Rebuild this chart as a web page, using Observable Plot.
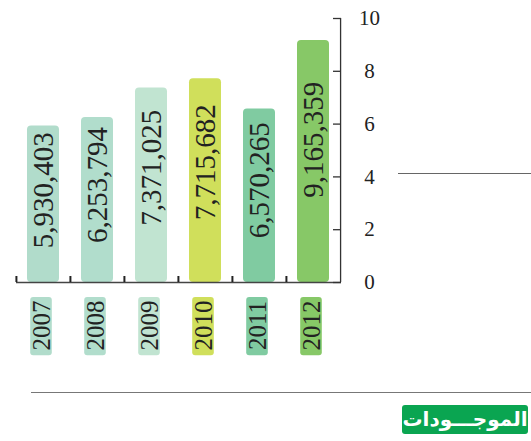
<!DOCTYPE html>
<html>
<head>
<meta charset="utf-8">
<script src="https://cdn.jsdelivr.net/npm/d3@7"></script>
<script src="https://cdn.jsdelivr.net/npm/@observablehq/plot@0.6"></script>
<style>
  html, body { margin: 0; padding: 0; background: #fff; }
  #wrap { position: relative; width: 531px; height: 441px; overflow: hidden; }
  #wrap svg { position: absolute; left: 0; top: 0; }
  .hline { position: absolute; height: 0; }
  #title { position: absolute; left: 402px; top: 405px; width: 126px; height: 29px;
    background: #0aa551; border-radius: 3px; color: #fff; direction: rtl;
    font: bold 20px "DejaVu Sans", sans-serif; line-height: 29px; text-align: center; }
</style>
</head>
<body>
<div id="wrap"></div>
<script>
// Data
const years = ["2007", "2008", "2009", "2010", "2011", "2012"];
const assets = [5930403, 6253794, 7371025, 7715682, 6570265, 9165359];
const colors = ["#b1dccb", "#b1ddcc", "#c1e4d1", "#d0df5b", "#80cba1", "#87c867"];
const yTicks = [0, 2, 4, 6, 8, 10];
const titleText = "الموجـــودات";

const data = years.map((y, i) => ({year: y, raw: assets[i], value: assets[i] / 1e6, color: colors[i]}));

const W = 531, H = 441, mL = 16, mR = 190, mT = 18, mB = 159;
const padIn = 0.4, padOut = 0.2;
const step = (W - mL - mR) / (years.length - padIn + 2 * padOut);
const frameH = H - mT - mB;
const fmt = d3.format(",");
const serif = "'Liberation Serif', 'Times New Roman', serif";

const chart = Plot.plot({
  width: W, height: H,
  marginLeft: mL, marginRight: mR, marginTop: mT, marginBottom: mB,
  style: {fontFamily: serif},
  x: {type: "band", domain: years, paddingInner: padIn, paddingOuter: padOut, align: 0.5, axis: null},
  y: {domain: [0, 10], axis: null},
  marks: [
    Plot.barY(data, {x: "year", y: "value", fill: "color", rx: 4}),
    Plot.text(data, {x: "year", y: d => d.value * 0.59, text: d => fmt(d.raw), rotate: -90,
      fontSize: 29, fontFamily: serif, fill: "#222"}),
    // baseline and right axis line
    Plot.ruleY([0], {stroke: "#444", strokeWidth: 1.3}),
    Plot.ruleX([years[years.length - 1]], {x: d => d, dx: step / 2, y1: 0, y2: 10, stroke: "#333", strokeWidth: 1.3}),
    // y ticks (pointing inward)
    Plot.tickY(yTicks, {y: d => d, insetLeft: (W - mL - mR) - 8, stroke: "#333", strokeWidth: 1.3}),
    Plot.text(yTicks, {y: d => d, frameAnchor: "right", dx: 28, text: d => String(d),
      fontSize: 21, fontFamily: serif, fill: "#222", textAnchor: "middle"}),
    // category separators on baseline
    Plot.tickX(years, {x: d => d, dx: -step / 2, insetTop: frameH - 6, stroke: "#222", strokeWidth: 2}),
    // year label boxes
    Plot.barY(data, {x: "year", y1: () => -0.57, y2: () => -2.77, fill: "color", rx: 3,
      insetLeft: 5.2, insetRight: 5.2, dx: -2}),
    Plot.text(data, {x: "year", y: () => -1.63, text: "year", rotate: -90, dx: -2,
      fontSize: 25, fontFamily: serif, fill: "#222"})
  ]
});

const wrap = document.getElementById("wrap");
wrap.appendChild(chart);

const l1 = document.createElement("div");
l1.className = "hline";
Object.assign(l1.style, {left: "31px", top: "392px", width: "500px", borderTop: "1.5px solid #777"});
wrap.appendChild(l1);

const l2 = document.createElement("div");
l2.className = "hline";
Object.assign(l2.style, {left: "398px", top: "173px", width: "133px", borderTop: "1px solid #666"});
wrap.appendChild(l2);

const t = document.createElement("div");
t.id = "title";
t.textContent = titleText;
wrap.appendChild(t);
</script>
</body>
</html>
